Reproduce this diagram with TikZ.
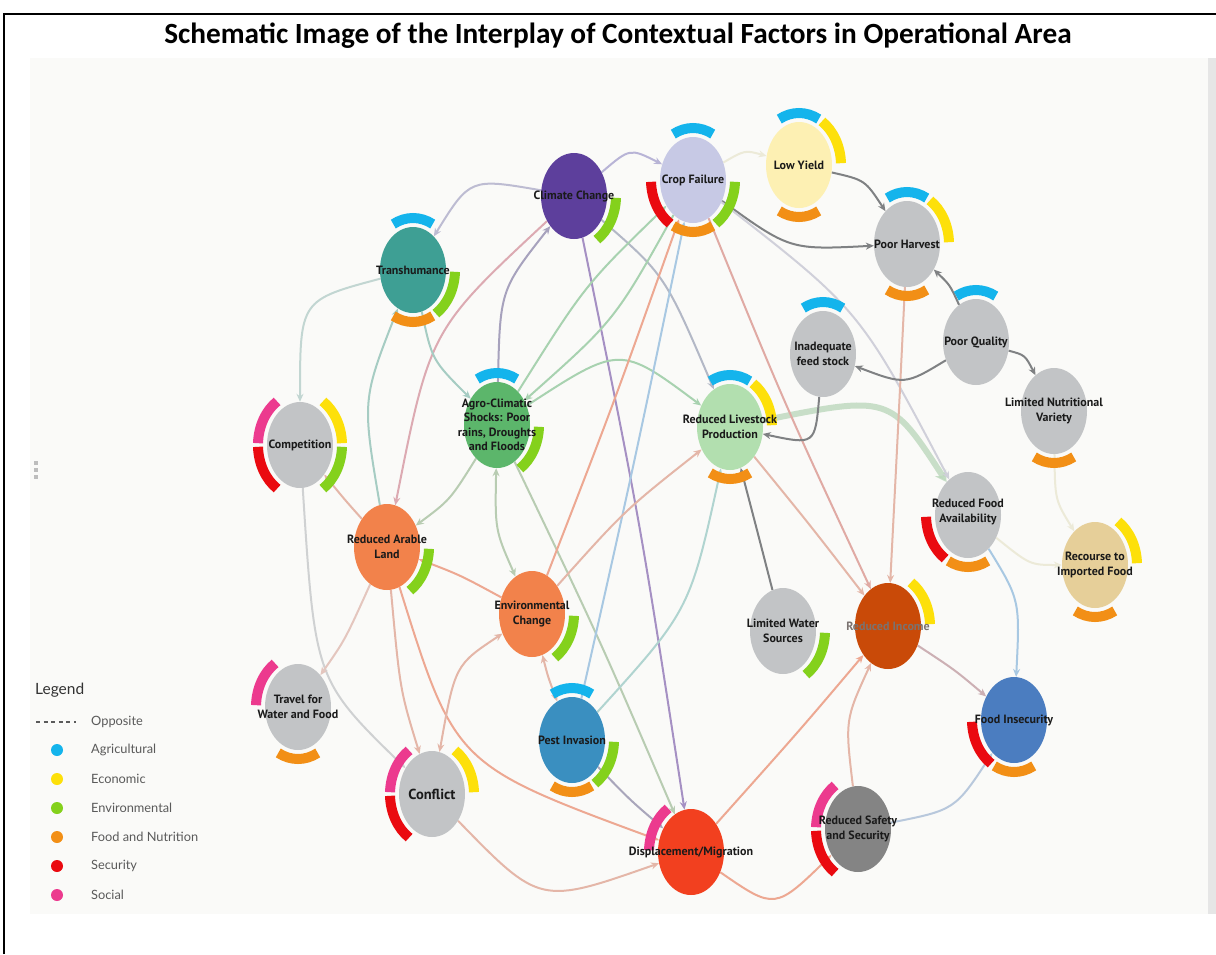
\documentclass[tikz,border=0pt]{standalone}
\usepackage{fontspec}
\setmainfont{PT Sans}
\newfontfamily\titlef{Carlito}
\newfontfamily\lblf{PT Sans}
\newfontfamily\legf{Lato}
\usetikzlibrary{shapes.geometric,arrows.meta,calc}
\pgfdeclarelayer{bg}
\pgfdeclarelayer{edges}
\pgfsetlayers{bg,edges,main}
% category colours
\definecolor{cAgr}{HTML}{14B4EC}
\definecolor{cEco}{HTML}{FDE00A}
\definecolor{cEnv}{HTML}{84D11C}
\definecolor{cFood}{HTML}{F28F16}
\definecolor{cSec}{HTML}{EA0A10}
\definecolor{cSoc}{HTML}{EC3A8E}
% node fills
\definecolor{fCC}{HTML}{5D3F9C}
\definecolor{fCF}{HTML}{C7C9E5}
\definecolor{fLY}{HTML}{FDF0B3}
\definecolor{fGrey}{HTML}{C2C4C6}
\definecolor{fTR}{HTML}{3E9F94}
\definecolor{fAG}{HTML}{5CB66B}
\definecolor{fRLP}{HTML}{B2DFAF}
\definecolor{fRIF}{HTML}{E6CF99}
\definecolor{fOr}{HTML}{F2824B}
\definecolor{fRI}{HTML}{C94A08}
\definecolor{fFI}{HTML}{4B7DC0}
\definecolor{fPI}{HTML}{3A8FC0}
\definecolor{fRS}{HTML}{848484}
\definecolor{fDM}{HTML}{F2401F}
% edge colours
\definecolor{ePur}{HTML}{A590C3}
\definecolor{eLav}{HTML}{B8B4D6}
\definecolor{eLavG}{HTML}{BDBCD2}
\definecolor{ePG}{HTML}{B3B8C6}
\definecolor{ePink}{HTML}{DCAAB2}
\definecolor{ePGr}{HTML}{A7A2BD}
\definecolor{eGrn}{HTML}{A8D2B0}
\definecolor{eGG}{HTML}{B8CCB2}
\definecolor{eTeal}{HTML}{A6CCC3}
\definecolor{eTealL}{HTML}{C2D6D2}
\definecolor{eThick}{HTML}{BCD8BC}
\definecolor{ePale}{HTML}{ECEAD8}
\definecolor{eDark}{HTML}{7F8183}
\definecolor{eSal}{HTML}{EDA892}
\definecolor{eSalG}{HTML}{E4B6A8}
\definecolor{eSalL}{HTML}{E4C6BE}
\definecolor{eSalLav}{HTML}{E0AAA4}
\definecolor{eLGrey}{HTML}{D0D0DA}
\definecolor{eBlue}{HTML}{A8C8E2}
\definecolor{eBG}{HTML}{B0D4D0}
\definecolor{eGP}{HTML}{A9A6BB}
\definecolor{eGrey}{HTML}{CFD1D2}
\definecolor{eSB}{HTML}{CCB0B4}
\definecolor{eBGr}{HTML}{B8C8DC}
\definecolor{panel}{HTML}{FAFAF8}
\definecolor{strip}{HTML}{E6E6E6}
\definecolor{lbltext}{HTML}{1A1A1A}
\definecolor{legtext}{HTML}{5A5A5A}
\definecolor{legtitle}{HTML}{333333}
\definecolor{dotsgrey}{HTML}{BDBDBD}
\definecolor{ritext}{HTML}{7A7270}

\tikzset{
  fact/.style={ellipse, minimum width=66pt, minimum height=86pt, inner sep=0pt},
  lbl/.style={font=\lblf\bfseries\fontsize{12}{14.5}\selectfont, align=center, text=lbltext, inner sep=0pt},
  ring/.style={line width=10pt},
  conn/.style={line width=2pt, -{Stealth[length=8pt,width=7pt]}},
  bconn/.style={line width=2pt, {Stealth[length=8pt,width=7pt]}-{Stealth[length=8pt,width=7pt]}},
  legdot/.style={circle, minimum size=12pt, inner sep=0pt},
  legtxt/.style={font=\legf\fontsize{12.8}{14}\selectfont, text=legtext, anchor=west, inner sep=0pt},
}
\newcommand\rarc[4]{\draw[ring,#4] ($(#1)+(-#2:42 and 52)$) arc[start angle=-#2, end angle=-#3, x radius=42, y radius=52];}
\newcommand\rB[1]{\rarc{#1}{62}{118}{cAgr}}
\newcommand\rY[1]{\rarc{#1}{2}{57}{cEco}}
\newcommand\rG[1]{\rarc{#1}{303}{358}{cEnv}}
\newcommand\rO[1]{\rarc{#1}{242}{298}{cFood}}
\newcommand\rR[1]{\rarc{#1}{182}{237}{cSec}}
\newcommand\rP[1]{\rarc{#1}{123}{178}{cSoc}}

\begin{document}
\begin{tikzpicture}[x=1pt,y=-1pt]
\useasboundingbox (0,0) rectangle (1216,954);
\begin{pgfonlayer}{bg}
\fill[white] (0,0) rectangle (1216,954);
\fill[panel] (30,58) rectangle (1208,914);
\fill[strip] (1208,58) rectangle (1216,914);
\draw[line width=1.6pt,black] (4,954) -- (4,14) -- (1216,14);
\fill[dotsgrey] (34,461) rectangle (38,465);
\fill[dotsgrey] (34,468) rectangle (38,472);
\fill[dotsgrey] (34,475) rectangle (38,479);
\end{pgfonlayer}

\node[font=\titlef\bfseries\fontsize{29.3}{34}\selectfont] (title) at (618,36) {Schematic Image of the Interplay of Contextual Factors in Operational Area};

% factor nodes
\node[fact, fill=fCC]   (cc)  at (574,196) {};
\node[fact, fill=fCF]   (cf)  at (693,180) {};
\node[fact, fill=fLY]   (ly)  at (799,165) {};
\node[fact, fill=fGrey] (ph)  at (907,244) {};
\node[fact, fill=fGrey] (pq)  at (976,342) {};
\node[fact, fill=fGrey] (ifs) at (823,354) {};
\node[fact, fill=fGrey] (lnv) at (1054,411) {};
\node[fact, fill=fTR]   (tr)  at (413,270) {};
\node[fact, fill=fGrey] (co)  at (300,445) {};
\node[fact, fill=fAG]   (ag)  at (497,425) {};
\node[fact, fill=fRLP]  (rlp) at (730,427) {};
\node[fact, fill=fGrey] (rfa) at (968,515) {};
\node[fact, fill=fRIF]  (rif) at (1095,565) {};
\node[fact, fill=fOr]   (ral) at (387,547) {};
\node[fact, fill=fOr]   (ec)  at (532,614) {};
\node[fact, fill=fGrey] (lws) at (783,631) {};
\node[fact, fill=fRI]   (ri)  at (888,626) {};
\node[fact, fill=fGrey] (tw)  at (298,707) {};
\node[fact, fill=fFI]   (fi)  at (1014,720) {};
\node[fact, fill=fPI]   (pi)  at (572,740) {};
\node[fact, fill=fGrey] (cn)  at (432,794) {};
\node[fact, fill=fRS]   (rs)  at (858,829) {};
\node[fact, fill=fDM]   (dm)  at (691,852) {};

% category rings
\rG{cc}
\rB{cf}\rR{cf}\rO{cf}\rG{cf}
\rB{ly}\rY{ly}\rO{ly}
\rB{ph}\rY{ph}\rO{ph}
\rB{pq}
\rB{ifs}
\rO{lnv}
\rB{tr}\rG{tr}\rO{tr}
\rP{co}\rR{co}\rY{co}\rG{co}
\rB{ag}\rG{ag}
\rB{rlp}\rY{rlp}\rO{rlp}
\rR{rfa}\rO{rfa}
\rY{rif}\rO{rif}
\rG{ral}
\rG{ec}
\rG{lws}
\rY{ri}
\rP{tw}\rO{tw}
\rR{fi}\rO{fi}
\rB{pi}\rG{pi}\rO{pi}
\rP{cn}\rR{cn}\rY{cn}
\rP{rs}\rR{rs}
\rP{dm}

% connectors
\begin{pgfonlayer}{edges}
\draw[conn,eLav]   (cc) .. controls (630,148) .. (cf);
\draw[conn,eLavG]  (cc) .. controls (470,178) .. (tr);
\draw[conn,ePur]   (cc) .. controls (640,520) .. (dm);
\draw[conn,ePG]    (cc) .. controls (665,275) .. (rlp);
\draw[conn,ePink]  (cc) .. controls (430,330) .. (ral);
\draw[conn,ePGr]   (ag) .. controls (500,290) .. (cc);
\draw[conn,eGrn]   (ag) .. controls (585,285) .. (cf);
\draw[conn,eGrn]   (cf) .. controls (615,320) .. (ag);
\draw[conn,eGrn]   (ag) .. controls (620,345) .. (rlp);
\draw[conn,eGG]    (ag) .. controls (450,500) .. (ral);
\draw[bconn,eGG]   (ag) .. controls (495,530) .. (ec);
\draw[conn,eGG]    (ag) .. controls (600,640) .. (dm);
\draw[conn,eTealL] (tr) .. controls (300,300) .. (co);
\draw[conn,eTeal]  (ral) .. controls (362,400) .. (tr);
\draw[conn,eTeal]  (tr) .. controls (432,360) .. (ag);
\draw[eThick,line width=6pt,opacity=0.8,-{Stealth[length=11pt,width=13pt]}] (rlp) .. controls (890,395) .. (rfa);
\draw[conn,ePale]  (cf) .. controls (745,150) .. (ly);
\draw[conn,eDark]  (cf) .. controls (790,250) .. (ph);
\draw[conn,eDark]  (ly) .. controls (865,180) .. (ph);
\draw[conn,eSalLav] (cf) .. controls (785,405) .. (ri);
\draw[conn,eLGrey] (cf) .. controls (860,310) .. (rfa);
\draw[conn,eSal]   (ec) .. controls (615,400) .. (cf);
\draw[conn,eBlue]  (pi) .. controls (635,460) .. (cf);
\draw[conn,eBG]    (pi) .. controls (690,610) .. (rlp);
\draw[bconn,eSalG] (ec) .. controls (548,677) .. (pi);
\draw[conn,eGP]    (pi) .. controls (630,800) .. (dm);
\draw[conn,eSal]   (ral) .. controls (455,765) .. (dm);
\draw[conn,eSalG]  (ral) .. controls (400,690) .. (cn);
\draw[bconn,eSalG] (cn) .. controls (455,665) .. (ec);
\draw[conn,eGrey]  (co) .. controls (315,680) .. (cn);
\draw[conn,eSalG]  (ral) .. controls (345,500) .. (co);
\draw[conn,eSalL]  (ral) .. controls (345,640) .. (tw);
\draw[conn,eSal]   (ec) .. controls (460,575) .. (ral);
\draw[conn,eSalG]  (ec) .. controls (625,510) .. (rlp);
\draw[conn,eSalG]  (cn) .. controls (540,905) .. (dm);
\draw[conn,eSal]   (dm) .. controls (800,730) .. (ri);
\draw[conn,eSal]   (dm) .. controls (775,910) .. (rs);
\draw[conn,eSalG]  (rs) .. controls (845,720) .. (ri);
\draw[conn,eBGr]   (rs) .. controls (955,810) .. (fi);
\draw[conn,eSB]    (ri) .. controls (955,670) .. (fi);
\draw[conn,eBlue]  (rfa) .. controls (1020,600) .. (fi);
\draw[conn,ePale]  (rfa) .. controls (1030,565) .. (rif);
\draw[conn,ePale]  (lnv) .. controls (1055,500) .. (rif);
\draw[conn,eSalG]  (ph) .. controls (898,430) .. (ri);
\draw[conn,eSalG]  (rlp) .. controls (810,525) .. (ri);
\draw[conn,eDark]  (ifs) .. controls (815,445) .. (rlp);
\draw[conn,eDark]  (lws) .. controls (757,530) .. (rlp);
\draw[conn,eDark]  (pq) .. controls (905,385) .. (ifs);
\draw[conn,eDark]  (pq) .. controls (950,285) .. (ph);
\draw[conn,eDark]  (pq) .. controls (1025,355) .. (lnv);
\end{pgfonlayer}

% labels
\node[lbl] (tcc)  at (cc)  {Climate Change};
\node[lbl] (tcf)  at (cf)  {Crop Failure};
\node[lbl] (tly)  at (ly)  {Low Yield};
\node[lbl] (tph)  at (ph)  {Poor Harvest};
\node[lbl] (tpq)  at (pq)  {Poor Quality};
\node[lbl] (tifs) at (ifs) {Inadequate\\feed stock};
\node[lbl] (tlnv) at (lnv) {Limited Nutritional\\Variety};
\node[lbl] (ttr)  at (tr)  {Transhumance};
\node[lbl] (tco)  at (co)  {Competition};
\node[lbl] (tag)  at (ag)  {Agro-Climatic\\Shocks: Poor\\rains, Droughts\\and Floods};
\node[lbl] (trlp) at (rlp) {Reduced Livestock\\Production};
\node[lbl] (trfa) at ($(rfa)+(0,-3)$) {Reduced Food\\Availability};
\node[lbl] (trif) at (rif) {Recourse to\\Imported Food};
\node[lbl] (tral) at (ral) {Reduced Arable\\Land};
\node[lbl] (tec)  at (ec)  {Environmental\\Change};
\node[lbl] (tlws) at (lws) {Limited Water\\Sources};
\node[lbl, text=ritext] (tri) at (ri) {Reduced Income};
\node[lbl] (ttw)  at (tw)  {Travel for\\Water and Food};
\node[lbl] (tfi)  at (fi)  {Food Insecurity};
\node[lbl] (tpi)  at (pi)  {Pest Invasion};
\node[lbl, font=\lblf\bfseries\fontsize{14.5}{16}\selectfont] (tcn) at (cn) {Conflict};
\node[lbl] (trs)  at (rs)  {Reduced Safety\\and Security};
\node[lbl] (tdm)  at (dm)  {Displacement/Migration};

% legend
\node[anchor=west, inner sep=0pt, font=\legf\fontsize{15.5}{18}\selectfont, text=legtitle] (legt) at (35,690) {Legend};
\coordinate (da) at (36,722);
\coordinate (db) at (76,722);
\draw[legtext, line width=1.3pt, dash pattern=on 4pt off 3.6pt] (da) -- (db);
\node[legtxt] (lo) at (91,722) {Opposite};
\node[legdot, fill=cAgr]  (d1) at (57,750) {};
\node[legtxt] (l1) at (91,750) {Agricultural};
\node[legdot, fill=cEco]  (d2) at (57,779) {};
\node[legtxt] (l2) at (91,779) {Economic};
\node[legdot, fill=cEnv]  (d3) at (57,808) {};
\node[legtxt] (l3) at (91,808) {Environmental};
\node[legdot, fill=cFood] (d4) at (57,837) {};
\node[legtxt] (l4) at (91,837) {Food and Nutrition};
\node[legdot, fill=cSec]  (d5) at (57,866) {};
\node[legtxt] (l5) at (91,866) {Security};
\node[legdot, fill=cSoc]  (d6) at (57,895) {};
\node[legtxt] (l6) at (91,895) {Social};
\end{tikzpicture}
\end{document}
